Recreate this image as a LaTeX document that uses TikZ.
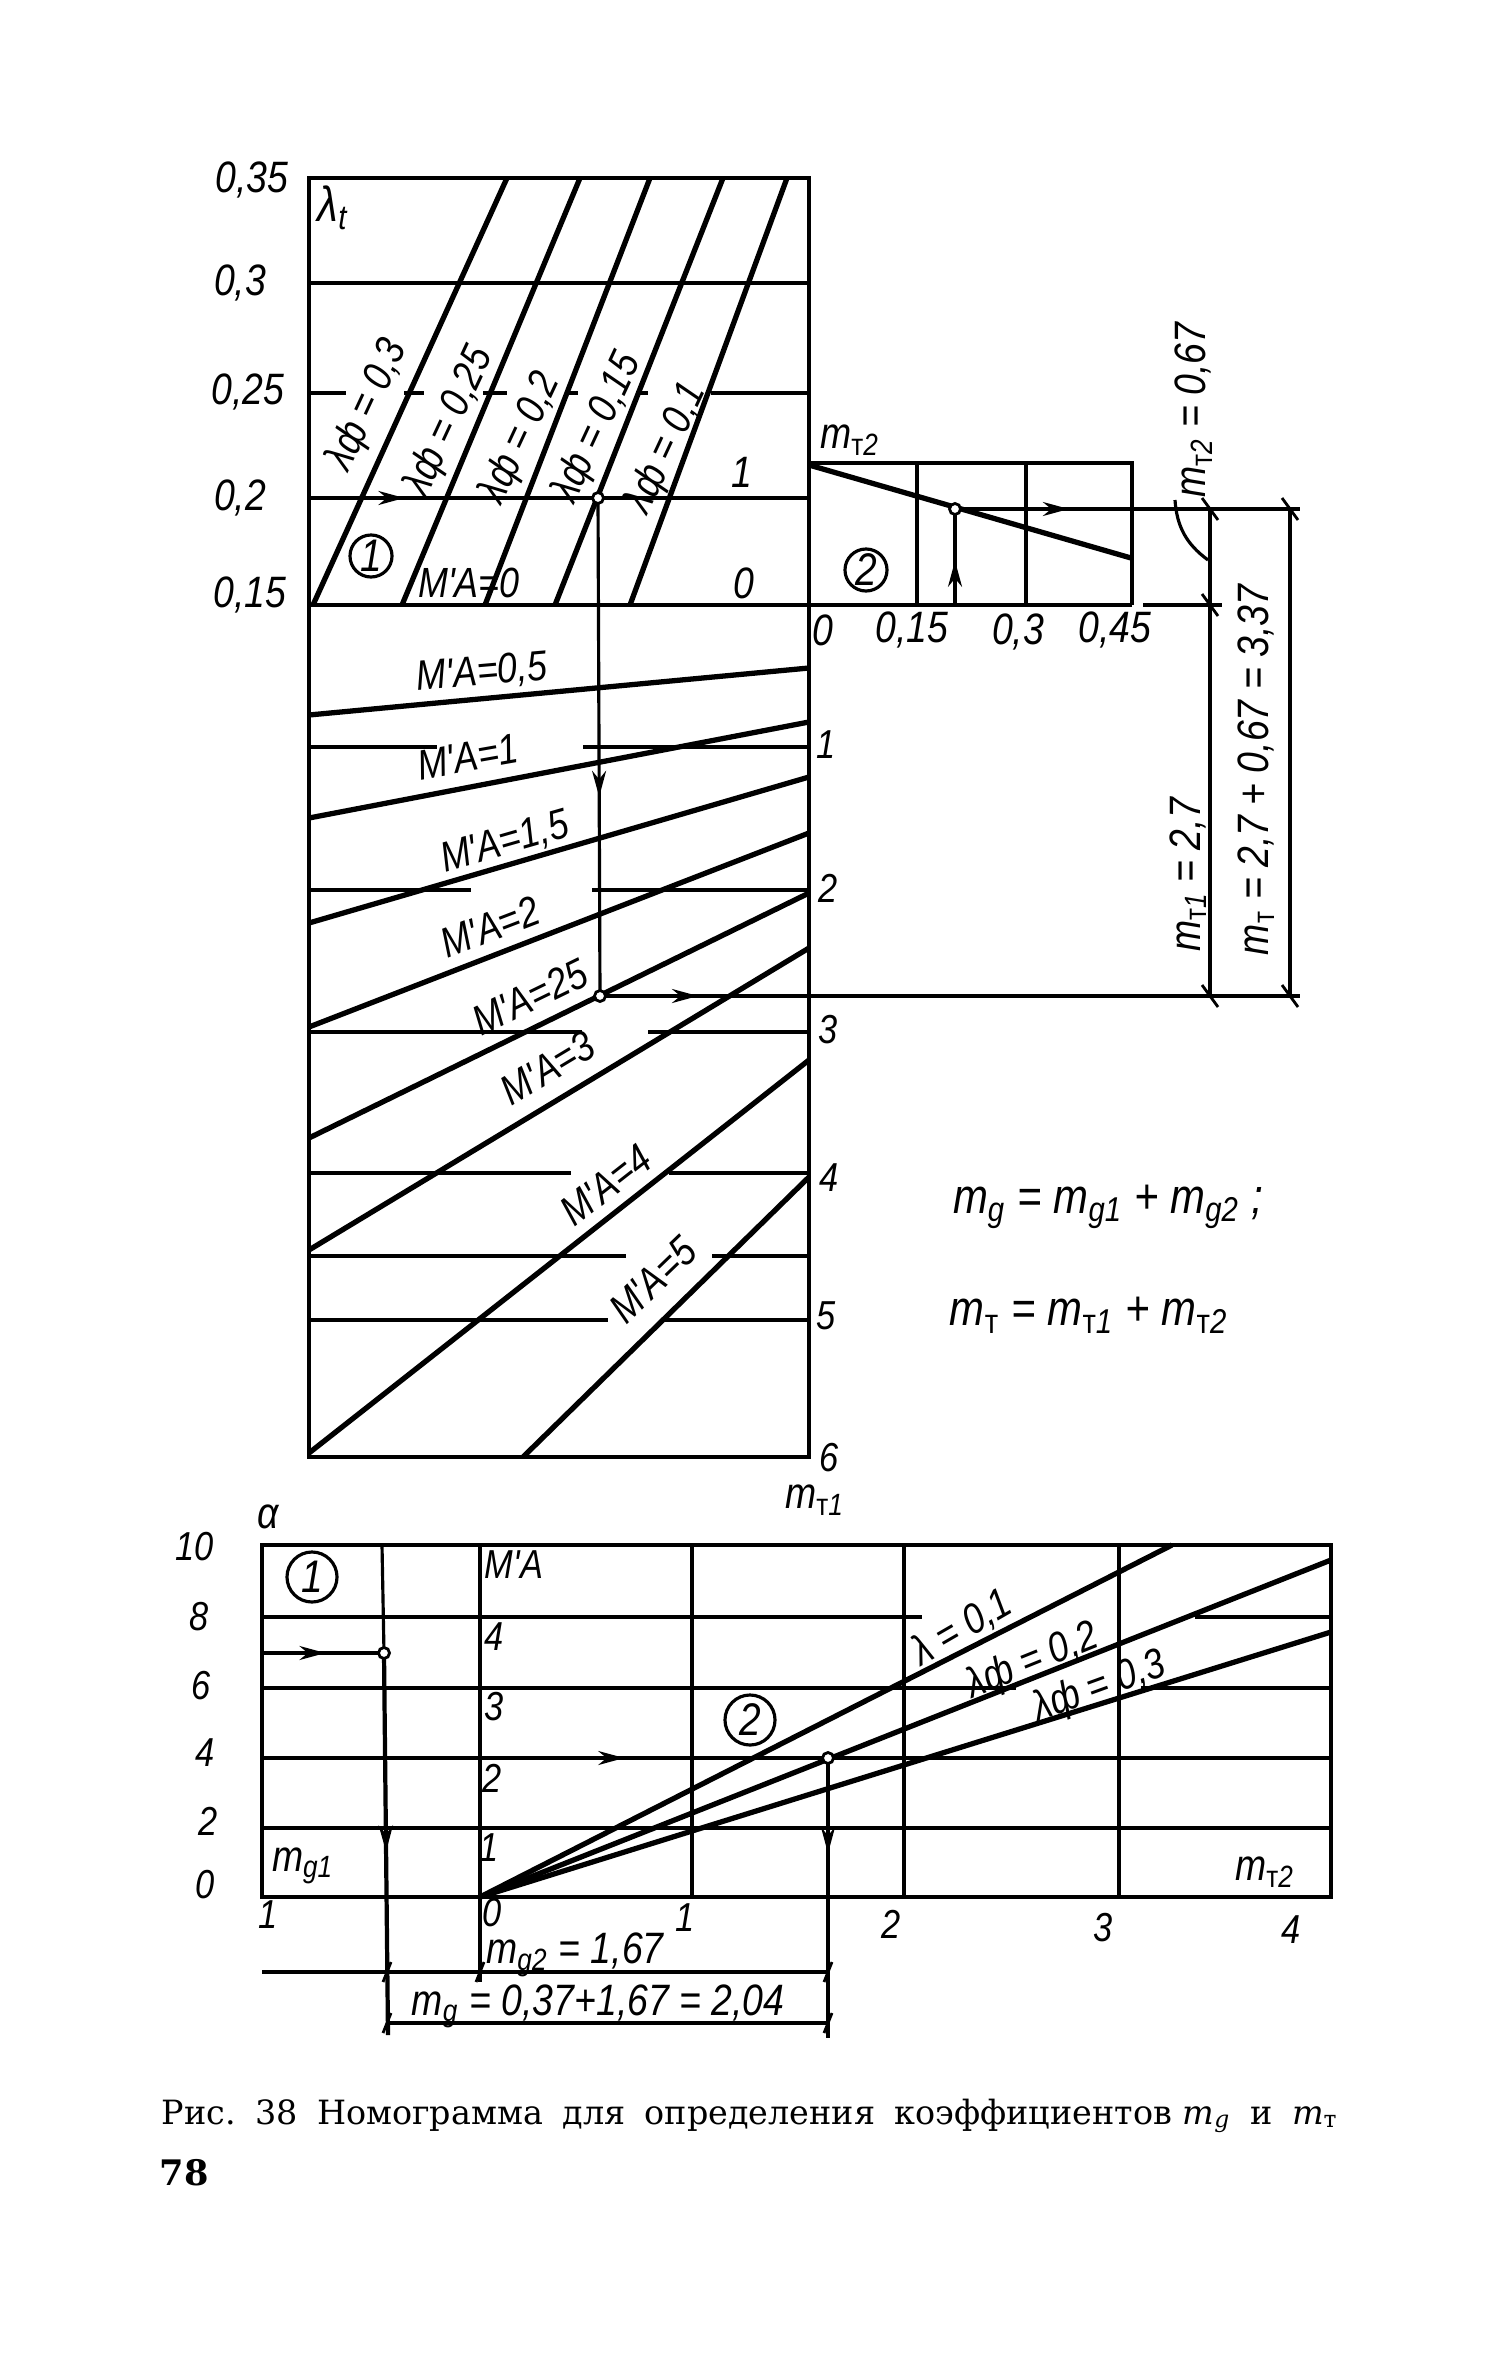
\documentclass[tikz,border=0pt]{standalone}
\usepackage{fontspec}
\usetikzlibrary{arrows.meta,decorations.markings}
\newfontfamily\hwfam[FakeStretch=0.85]{Liberation Sans}
\newfontfamily\capfam{DejaVu Serif}
\newcommand\hwit{\hwfam\itshape}
\newcommand\tsb[1]{\textsubscript{{\upshape т}#1}}
\begin{document}
\begin{tikzpicture}[x=0.01cm,y=-0.01cm,
  boxl/.style={line width=1.4pt},
  gridl/.style={line width=0.9pt},
  fam/.style={line width=1.5pt},
  rdl/.style={line width=0.9pt},
  tickl/.style={line width=0.8pt},
  midarr/.style={postaction={decorate},decoration={markings,mark=at position #1 with {\arrow{Stealth[length=2.6mm,width=1.4mm]}}}},
  lbl/.style={font=\hwit\fontsize{12.5}{12.5}\selectfont,inner sep=0pt},
  rlbl/.style={font=\hwit\fontsize{12}{12}\selectfont,inner sep=0pt},
  slbl/.style={font=\hwit\fontsize{11.5}{11.5}\selectfont,inner sep=0pt},
  blbl/.style={font=\hwit\fontsize{14}{14}\selectfont,inner sep=0pt},
  cnum/.style={draw,circle,line width=0.9pt,inner sep=0pt,minimum size=#1,font=\hwit\fontsize{13}{13}\selectfont},
  crossdot/.style={draw,circle,line width=0.8pt,inner sep=0pt,minimum size=0.11cm,fill=white},
]
\useasboundingbox (0,0) rectangle (1500,2361);

% ---------- key coordinates ----------
\coordinate (A1) at (309,498);
\coordinate (P1) at (598,498);
\coordinate (P2) at (600,996);
\coordinate (E1) at (1300,996);
\coordinate (B1) at (955,605);
\coordinate (P3) at (955,509);
\coordinate (E2) at (1300,509);
\coordinate (L1) at (262,1653);
\coordinate (Q1) at (384,1653);
\coordinate (Q1b) at (388,2035);
\coordinate (L2) at (262,1758);
\coordinate (Q2) at (828,1758);
\coordinate (Q2b) at (828,2038);

% ---------- upper chart ----------
\draw[boxl] (309,178) rectangle (809,1457);
\draw[boxl] (309,605) -- (1132,605);
\draw[gridl] (309,283) -- (809,283);
\foreach \a/\b in {309/346,404/424,483/507,565/578,636/648,711/809}
  \draw[gridl] (\a,393) -- (\b,393);
\draw[gridl,midarr=0.33] (A1) -- (P1);
\draw[gridl] (P1) -- (809,498);

% lambda_phi lines
\draw[fam] (313,605) -- (507,178);
\draw[fam] (402,605) -- (580,178);
\draw[fam] (485,605) -- (650,178);
\draw[fam] (555,605) -- (723,178);
\draw[fam] (630,605) -- (787,178);

% lower grid segments
\foreach \y/\a/\b in {747/437/583, 890/471/592, 1032/582/648, 1173/571/669, 1256/626/712, 1320/608/662}
  \draw[gridl] (309,\y) -- (\a,\y) (\b,\y) -- (809,\y);

% M'A lines
\draw[fam] (309,715) -- (809,668);
\draw[fam] (309,818) -- (809,722);
\draw[fam] (309,923) -- (809,777);
\draw[fam] (309,1027) -- (809,833);
\draw[fam] (309,1138) -- (809,893);
\draw[fam] (309,1250) -- (809,948);
\draw[fam] (309,1453) -- (809,1060);
\draw[fam] (523,1457) -- (809,1177);

% reading lines
\draw[rdl,midarr=0.6] (P1) -- (P2);
\draw[rdl,midarr=0.14] (P2) -- (E1);

% ---------- panel 2 ----------
\draw[gridl] (809,463) -- (1132,463) -- (1132,605);
\draw[gridl] (917,463) -- (917,605) (1026,463) -- (1026,605);
\draw[fam] (809,465) -- (1131,558);
\draw[gridl] (1143,605) -- (1222,605);
\draw[rdl,midarr=0.46] (B1) -- (P3);
\draw[rdl,midarr=0.33] (P3) -- (E2);

% dimension lines right
\draw[gridl] (1210,509) -- (1210,996);
\draw[gridl] (1290,509) -- (1290,996);
\foreach \p in {(1210,509),(1210,605),(1210,996),(1290,509),(1290,996)}
  \draw[tickl] \p +(-8,-11) -- +(8,11);
\draw[gridl] (1175,500) to[bend right=25] (1208,560);

% dots
\node[crossdot] (d1) at (P1) {};
\node[crossdot] (d2) at (P2) {};
\node[crossdot] (d3) at (P3) {};

% ---------- upper labels ----------
\node[lbl] (t035) at (252,180) {0,35};
\node[lbl] (t030) at (240,283) {0,3};
\node[lbl] (t025) at (248,392) {0,25};
\node[lbl] (t020) at (240,498) {0,2};
\node[lbl] (t015) at (250,595) {0,15};
\node[font=\hwit\fontsize{14}{14}\selectfont,inner sep=0pt] (lt) at (333,208) {λ\textsubscript{t}};
\node[rlbl,rotate=65] (lf1) at (368,405) {λф = 0,3};
\node[rlbl,rotate=65] (lf2) at (450,422) {λф = 0,25};
\node[rlbl,rotate=65] (lf3) at (521,438) {λф = 0,2};
\node[rlbl,rotate=65] (lf4) at (598,428) {λф = 0,15};
\node[rlbl,rotate=65] (lf5) at (667,448) {λф = 0,1};
\node[lbl] (u1) at (742,472) {1};
\node[lbl] (u0) at (744,583) {0};
\node[cnum=0.42cm] (c1) at (371,556) {1};
\node[rlbl] (ma0) at (469,583) {M'A=0};

% lower part labels
\node[rlbl,rotate=5] (ma05) at (482,673) {M'A=0,5};
\node[rlbl,rotate=10] (ma1) at (468,757) {M'A=1};
\node[rlbl,rotate=16] (ma15) at (505,843) {M'A=1,5};
\node[rlbl,rotate=21] (ma2) at (490,927) {M'A=2};
\node[rlbl,rotate=26] (ma25) at (530,997) {M'A=25};
\node[rlbl,rotate=31] (ma3) at (548,1068) {M'A=3};
\node[rlbl,rotate=38] (ma4) at (606,1185) {M'A=4};
\node[rlbl,rotate=44] (ma5) at (653,1280) {M'A=5};
\node[slbl] (r1) at (826,745) {1};
\node[slbl] (r2) at (828,888) {2};
\node[slbl] (r3) at (828,1030) {3};
\node[slbl] (r4) at (829,1178) {4};
\node[slbl] (r5) at (826,1316) {5};
\node[slbl] (r6) at (829,1458) {6};
\node[lbl] (mt1) at (815,1500) {m\tsb{1}};

% panel 2 labels
\node[lbl] (mt2a) at (850,440) {m\tsb{2}};
\node[cnum=0.42cm] (c2) at (866,570) {2};
\node[lbl] (p0) at (823,630) {0};
\node[lbl] (p015) at (912,630) {0,15};
\node[lbl] (p03) at (1018,632) {0,3};
\node[lbl] (p045) at (1115,630) {0,45};
\node[lbl,rotate=90] (dm2) at (1194,410) {m\tsb{2} = 0,67};
\node[lbl,rotate=90] (dm1) at (1188,875) {m\tsb{1} = 2,7};
\node[lbl,rotate=90] (dm) at (1256,770) {m\tsb{} = 2,7 + 0,67 = 3,37};

% formulas
\node[blbl] (f1) at (1108,1207) {m\textsubscript{g} = m\textsubscript{g1} + m\textsubscript{g2} ;};
\node[blbl] (f2) at (1089,1315) {m\tsb{} = m\tsb{1} + m\tsb{2}};

% ---------- bottom chart ----------
\draw[boxl] (262,1545) rectangle (1331,1897);
\draw[gridl] (262,1617) -- (922,1617) (1195,1617) -- (1331,1617);
\draw[gridl] (262,1688) -- (1016,1688) (1141,1688) -- (1331,1688);
\draw[gridl] (Q2) -- (1331,1758);
\draw[gridl] (262,1828) -- (1331,1828);
\draw[gridl] (692,1545) -- (692,1897) (904,1545) -- (904,1897) (1119,1545) -- (1119,1897);
\draw[boxl] (480,1545) -- (480,1982);
\draw[gridl] (382,1545) -- (Q1);
\draw[fam] (480,1897) -- (1172,1545);
\draw[fam] (480,1897) -- (1331,1560);
\draw[fam] (480,1897) -- (1331,1632);
\draw[rdl,midarr=0.52] (L1) -- (Q1);
\draw[line width=1.2pt,midarr=0.52] (Q1) -- (Q1b);
\draw[rdl,midarr=0.64] (L2) -- (Q2);
\draw[rdl,midarr=0.34] (Q2) -- (Q2b);
\node[crossdot] (d4) at (Q1) {};
\node[crossdot] (d5) at (Q2) {};

% dimension lines bottom
\draw[gridl] (262,1972) -- (829,1972);
\draw[gridl] (387,2023) -- (829,2023);
\foreach \p in {(387,1972),(480,1972),(828,1972),(387,2023),(828,2023)}
  \draw[tickl] \p +(-4,10) -- +(4,-10);
\node[lbl] (mg2) at (575,1955) {m\textsubscript{g2} = 1,67};
\node[lbl] (mg) at (598,2006) {m\textsubscript{g} = 0,37+1,67 = 2,04};

% bottom labels
\node[lbl] (al) at (268,1517) {α};
\node[slbl] (a10) at (195,1547) {10};
\node[slbl] (a8) at (199,1617) {8};
\node[slbl] (a6) at (201,1686) {6};
\node[slbl] (a4) at (205,1753) {4};
\node[slbl] (a2) at (208,1821) {2};
\node[slbl] (a0) at (205,1885) {0};
\node[cnum=0.5cm] (c3) at (312,1577) {1};
\node[cnum=0.5cm] (c4) at (750,1720) {2};
\node[slbl] (mA) at (514,1565) {M'A};
\node[slbl] (m4) at (494,1637) {4};
\node[slbl] (m3) at (494,1707) {3};
\node[slbl] (m2) at (492,1778) {2};
\node[slbl] (m1) at (489,1848) {1};
\node[lbl] (mg1) at (303,1866) {m\textsubscript{g1}};
\node[slbl] (x1l) at (268,1915) {1};
\node[slbl] (x0) at (492,1913) {0};
\node[slbl] (x1) at (685,1918) {1};
\node[slbl] (x2) at (891,1924) {2};
\node[slbl] (x3) at (1103,1928) {3};
\node[slbl] (x4) at (1291,1930) {4};
\node[lbl] (mt2b) at (1265,1872) {m\tsb{2}};
\node[rlbl,rotate=30] (lb1) at (962,1628) {λ = 0,1};
\node[rlbl,rotate=22] (lb2) at (1033,1662) {λф = 0,2};
\node[rlbl,rotate=20] (lb3) at (1100,1688) {λф = 0,3};

% caption
\node[anchor=west,inner sep=0pt,font=\capfam\fontsize{9.5}{11}\selectfont] (cap) at (161,2116)
  {\makebox[11.76cm][s]{Рис.\hfill 38\hfill Номограмма\hfill для\hfill определения\hfill коэффициентов \textit{m\textsubscript{g}}\hfill и\hfill \textit{m}\textsubscript{т}}};
\node[anchor=west,inner sep=0pt,font=\capfam\bfseries\fontsize{10}{12}\selectfont] (pg) at (159,2173) {78};
\end{tikzpicture}
\end{document}
